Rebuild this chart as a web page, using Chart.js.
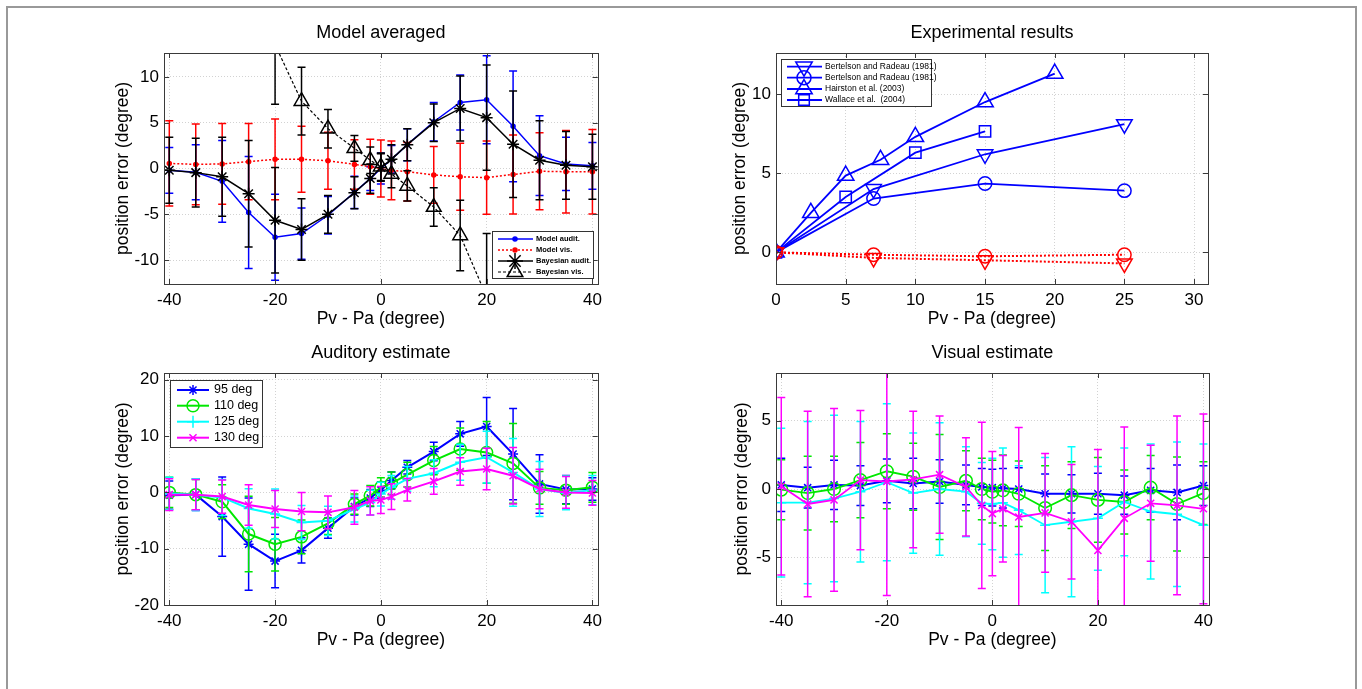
<!DOCTYPE html>
<html>
<head>
<meta charset="utf-8">
<script src="https://cdn.jsdelivr.net/npm/chart.js@4.4.1/dist/chart.umd.min.js"></script>
<style>
    body { margin: 0; background: #fff; width: 1362px; height: 689px; overflow: hidden; position: relative; }
    #frame { position: absolute; left: 6px; top: 6px; width: 1347px; height: 720px; border: 2px solid #999; }
    canvas { position: absolute; }
</style>
</head>
<body>
<div id="frame"></div>
<canvas id="tl"></canvas>
<canvas id="tr"></canvas>
<canvas id="bl"></canvas>
<canvas id="br"></canvas>
<script>
// offsets Pv - Pa used by the model and the two estimate panels
var offsets = [-40, -35, -30, -25, -20, -15, -10, -5, -2, 0, 2, 5, 10, 15, 20, 25, 30, 35, 40];

// Model averaged
var modelAud    = [-0.2, -0.4, -1.4, -4.8, -7.5, -7.1, -5.1, -2.6, -1.1, 0, 1.0, 2.6, 5.1, 7.2, 7.5, 4.6, 1.4, 0.5, 0.3];
var modelAudErr = [2.5, 3.0, 4.45, 6.1, 4.7, 2.8, 2.05, 1.75, 1.3, 1.7, 1.5, 1.75, 2.1, 3.0, 4.8, 6.05, 4.35, 2.9, 2.55];
var modelVis    = [0.55, 0.45, 0.5, 0.75, 1.0, 1.0, 0.85, 0.45, 0.2, 0, -0.2, -0.35, -0.7, -0.9, -1.0, -0.65, -0.3, -0.35, -0.35];
var modelVisErr = [4.65, 4.4, 4.4, 4.15, 4.4, 3.6, 3.1, 2.7, 3.0, 3.1, 3.2, 3.2, 3.1, 3.65, 4.0, 4.3, 4.2, 4.5, 4.6];
var bayesAud    = [-0.2, -0.45, -0.9, -2.75, -5.65, -6.65, -5.0, -2.65, -1.1, 0.1, 1.0, 2.6, 5.0, 6.55, 5.55, 2.65, 0.9, 0.35, 0.2];
var bayesAudErr = [3.6, 3.75, 4.3, 5.8, 5.75, 3.35, 2.05, 1.75, 1.6, 1.5, 1.6, 1.75, 2.05, 3.55, 5.75, 5.8, 4.3, 3.7, 3.55];
var bayesVisX   = [-20, -15, -10, -5, -2, 0, 2, 5, 10, 15, 20];
var bayesVis    = [13.5, 7.35, 4.35, 2.2, 0.9, 0.2, -0.6, -1.9, -4.2, -7.3, -14];
var bayesVisErr = [6.5, 3.7, 2.1, 1.4, 1.45, 1.5, 1.5, 1.65, 2.1, 3.85, 6.9];

// Experimental results
var bertX       = [0, 7, 15, 25];
var bertTri     = [0, 4.0, 6.2, 8.1];
var bertCirc    = [0, 3.4, 4.35, 3.9];
var hairX       = [0, 2.5, 5, 7.5, 10, 15, 20];
var hair        = [0, 2.5, 4.85, 5.85, 7.3, 9.5, 11.3];
var wallX       = [0, 5, 10, 15];
var wall        = [0, 3.5, 6.3, 7.65];
var bertTriVis  = [0, -0.35, -0.5, -0.7];
var bertCircVis = [0, -0.15, -0.25, -0.15];

// Auditory estimate
var aud95     = [-0.5, -0.4, -4.3, -9.2, -12.2, -10.3, -6.35, -2.5, -1.0, 0.4, 2.1, 4.45, 7.25, 10.4, 11.7, 6.8, 1.5, 0.5, 0.6];
var aud95Err  = [2.5, 2.8, 7.05, 8.2, 4.75, 2.25, 1.8, 1.5, 1.5, 1.5, 1.5, 1.2, 1.65, 2.2, 5.15, 8.1, 5.2, 2.5, 2.0];
var aud110    = [0.0, -0.4, -1.65, -7.4, -9.2, -7.9, -5.5, -2.1, -0.6, 0.9, 1.6, 3.15, 5.65, 7.7, 7.1, 5.15, 0.8, 0.4, 0.9];
var aud110Err = [2.7, 2.7, 3.0, 6.7, 4.75, 3.0, 2.0, 1.8, 1.8, 1.7, 2.0, 2.2, 2.5, 3.75, 5.5, 7.1, 2.9, 2.5, 2.65];
var aud125    = [-0.2, -0.4, -0.9, -2.85, -3.85, -5.35, -5.05, -2.95, -1.8, -0.3, 0.9, 2.4, 3.4, 5.35, 6.25, 3.55, 0.6, -0.1, 0.4];
var aud125Err = [2.9, 2.8, 3.2, 3.5, 4.45, 3.0, 2.6, 2.3, 2.2, 2.1, 2.1, 2.2, 2.4, 3.2, 4.6, 6.0, 4.9, 3.0, 2.6];
var aud130    = [-0.4, -0.4, -0.75, -2.25, -2.95, -3.4, -3.55, -2.65, -1.5, -1.35, -0.75, 0.45, 1.95, 3.7, 4.15, 2.95, 0.6, 0.0, -0.1];
var aud130Err = [2.8, 2.7, 2.95, 3.6, 3.3, 3.4, 2.9, 3.0, 2.5, 2.4, 2.3, 2.0, 2.3, 2.45, 3.7, 5.0, 3.5, 2.8, 2.2];

// Visual estimate
var vis95     = [0.3, 0.1, 0.3, 0.25, 0.6, 0.4, 0.55, 0.3, 0.15, 0.1, 0.05, 0.0, -0.35, -0.35, -0.35, -0.45, -0.1, -0.25, 0.25];
var vis95Err  = [1.95, 1.5, 1.8, 1.45, 1.6, 1.85, 1.6, 1.45, 1.35, 1.35, 1.45, 1.55, 1.45, 1.4, 1.5, 1.4, 1.6, 2.0, 1.45];
var vis110    = [-0.05, -0.3, 0.0, 0.65, 1.3, 0.9, 0.15, 0.6, 0.0, -0.2, -0.1, -0.35, -1.4, -0.45, -0.8, -0.95, 0.1, -1.1, -0.3];
var vis110Err = [2.2, 2.7, 2.4, 2.75, 2.75, 2.45, 3.85, 2.2, 2.25, 2.3, 2.6, 2.4, 3.1, 2.45, 3.1, 2.35, 2.35, 3.45, 2.3];
var vis125    = [-1.0, -1.0, -0.7, -0.2, 0.5, -0.3, 0.0, -0.2, -1.05, -1.1, -1.0, -1.55, -2.65, -2.4, -2.15, -0.95, -1.65, -1.85, -2.65];
var vis125Err = [5.45, 5.95, 6.1, 5.15, 5.75, 4.4, 4.85, 3.3, 3.0, 3.35, 4.0, 3.25, 4.95, 5.5, 3.8, 3.95, 4.95, 5.3, 5.95];
var vis130    = [0.2, -1.1, -0.8, 0.65, 0.55, 0.7, 1.05, 0.15, -1.2, -1.8, -1.45, -2.05, -1.75, -2.4, -4.5, -2.15, -1.05, -1.2, -1.45];
var vis130Err = [6.5, 6.8, 6.7, 5.1, 8.35, 5.0, 4.3, 3.6, 6.1, 4.55, 3.9, 6.55, 4.35, 4.2, 7.4, 6.7, 4.25, 6.55, 6.95];

// tick labels
var offsetTicks = [-40, -20, 0, 20, 40];
var expXTicks   = [0, 5, 10, 15, 20, 25, 30];
var modelYTicks = [-10, -5, 0, 5, 10];
var expYTicks   = [0, 5, 10];
var audYTicks   = [-20, -10, 0, 10, 20];
var visYTicks   = [-5, 0, 5];

var FAMILY = "'Liberation Sans', Arial, Helvetica, sans-serif";
var BLUE = '#0000ff', RED = '#ff0000', BLACK = '#000000', GREEN = '#00e800', CYAN = '#00ffff', MAGENTA = '#ff00ff';

function xy(xs, ys) {
    return xs.map(function (x, i) { return {x: x, y: ys[i]}; });
}

function series(label, xs, ys, errs, st) {
    return {
        label: label,
        data: xy(xs, ys),
        errors: errs,
        borderColor: st.color,
        backgroundColor: st.color,
        borderWidth: st.width || 1.5,
        borderDash: st.dash || [],
        pointStyle: st.marker,
        pointRadius: st.r,
        pointHoverRadius: st.r,
        pointRotation: st.rot || 0,
        pointBorderWidth: st.mw || 1.5,
        pointBorderColor: st.color,
        pointBackgroundColor: st.fill ? st.color : 'rgba(0,0,0,0)',
        tension: 0,
        fill: false,
        capHalf: st.cap || 4,
        errWidth: st.ew || 1.5
    };
}

function drawMarker(ctx, style, x, y, r, rot) {
    var k, t, a = (rot || 0) * Math.PI / 180;
    ctx.beginPath();
    if (style === 'circle') {
        ctx.arc(x, y, r, 0, Math.PI * 2);
        ctx.fill();
    } else if (style === 'triangle') {
        for (k = 0; k < 3; k++) {
            t = a + k * 2 * Math.PI / 3;
            if (k) ctx.lineTo(x + Math.sin(t) * r, y - Math.cos(t) * r);
            else ctx.moveTo(x + Math.sin(t) * r, y - Math.cos(t) * r);
        }
        ctx.closePath();
    } else if (style === 'rect') {
        var s = r * Math.SQRT1_2;
        ctx.rect(x - s, y - s, 2 * s, 2 * s);
    } else {
        var angles = style === 'cross' ? [0, 90] : style === 'crossRot' ? [45, 135] : [0, 45, 90, 135];
        angles.forEach(function (g) {
            var q = g * Math.PI / 180;
            ctx.moveTo(x - Math.cos(q) * r, y - Math.sin(q) * r);
            ctx.lineTo(x + Math.cos(q) * r, y + Math.sin(q) * r);
        });
    }
    ctx.stroke();
}

// error bars drawn just before each dataset, clipped to the axes
var errorBars = {
    id: 'errorBars',
    beforeDatasetDraw: function (chart, args) {
        var ds = chart.data.datasets[args.index];
        if (!ds.errors) return;
        var xs = chart.scales.x, ys = chart.scales.y, a = chart.chartArea, ctx = chart.ctx, cap = ds.capHalf;
        ctx.save();
        ctx.beginPath();
        ctx.rect(a.left, a.top, a.right - a.left, a.bottom - a.top);
        ctx.clip();
        ctx.strokeStyle = ds.borderColor;
        ctx.lineWidth = ds.errWidth;
        ctx.setLineDash([]);
        ctx.beginPath();
        ds.data.forEach(function (p, i) {
            var e = ds.errors[i];
            if (e == null) return;
            var px = xs.getPixelForValue(p.x);
            var top = ys.getPixelForValue(p.y + e), bot = ys.getPixelForValue(p.y - e);
            ctx.moveTo(px, top); ctx.lineTo(px, bot);
            ctx.moveTo(px - cap, top); ctx.lineTo(px + cap, top);
            ctx.moveTo(px - cap, bot); ctx.lineTo(px + cap, bot);
        });
        ctx.stroke();
        ctx.restore();
    }
};

// MATLAB style box with inward ticks, and the panel title over the axes
var titles = {};
var axesBox = {
    id: 'axesBox',
    afterDraw: function (chart) {
        var a = chart.chartArea, ctx = chart.ctx, xs = chart.scales.x, ys = chart.scales.y, L = 5;
        ctx.save();
        ctx.strokeStyle = '#3a3a3a';
        ctx.lineWidth = 1;
        ctx.setLineDash([]);
        ctx.beginPath();
        xs.ticks.forEach(function (t) {
            var px = Math.round(xs.getPixelForValue(t.value)) + 0.5;
            ctx.moveTo(px, a.bottom); ctx.lineTo(px, a.bottom - L);
            ctx.moveTo(px, a.top); ctx.lineTo(px, a.top + L);
        });
        ys.ticks.forEach(function (t) {
            var py = Math.round(ys.getPixelForValue(t.value)) + 0.5;
            ctx.moveTo(a.left, py); ctx.lineTo(a.left + L, py);
            ctx.moveTo(a.right, py); ctx.lineTo(a.right - L, py);
        });
        ctx.stroke();
        ctx.strokeRect(Math.round(a.left) + 0.5, Math.round(a.top) + 0.5,
            Math.round(a.right - a.left), Math.round(a.bottom - a.top));
        ctx.fillStyle = '#000';
        ctx.font = '18px ' + FAMILY;
        ctx.textAlign = 'center';
        ctx.textBaseline = 'middle';
        ctx.fillText(titles[chart.canvas.id], (a.left + a.right) / 2, a.top - 20);
        ctx.restore();
    }
};

// legends, page coordinates
var legends = {
    tl: {box: [492, 231, 593, 278], rowY: [239, 250, 261, 272], line: [498, 533], mark: 515, text: 536,
         font: 'bold 7.5px ' + FAMILY, radii: [2, 2, 8, 9]},
    tr: {box: [781, 59, 931, 106], rowY: [66.7, 77.7, 89, 100], line: [787, 822], mark: 804, text: 825,
         font: '8.5px ' + FAMILY, radii: [9.5, 7, 9.5, 7.5]},
    bl: {box: [170, 380, 262, 447], rowY: [390, 405.7, 421.7, 437.7], line: [177, 209], mark: 193, text: 214,
         font: '12.5px ' + FAMILY, radii: [5, 6, 6, 5]}
};

var boxLegend = {
    id: 'boxLegend',
    afterDraw: function (chart) {
        var o = legends[chart.canvas.id];
        if (!o) return;
        var ctx = chart.ctx, dx = parseFloat(chart.canvas.style.left), dy = parseFloat(chart.canvas.style.top), b = o.box;
        ctx.save();
        ctx.fillStyle = '#fff';
        ctx.fillRect(b[0] - dx, b[1] - dy, b[2] - b[0], b[3] - b[1]);
        ctx.strokeStyle = '#333';
        ctx.lineWidth = 1;
        ctx.strokeRect(b[0] - dx + 0.5, b[1] - dy + 0.5, b[2] - b[0], b[3] - b[1]);
        ctx.font = o.font;
        ctx.textBaseline = 'middle';
        ctx.textAlign = 'left';
        o.radii.forEach(function (r, k) {
            var d = chart.data.datasets[k], y = o.rowY[k] - dy;
            ctx.strokeStyle = d.borderColor;
            ctx.lineWidth = d.borderWidth;
            ctx.setLineDash(d.borderDash || []);
            ctx.beginPath();
            ctx.moveTo(o.line[0] - dx, y);
            ctx.lineTo(o.line[1] - dx, y);
            ctx.stroke();
            ctx.setLineDash([]);
            ctx.lineWidth = d.pointBorderWidth;
            ctx.fillStyle = d.pointBackgroundColor;
            drawMarker(ctx, d.pointStyle, o.mark - dx, y, r, d.pointRotation);
            ctx.fillStyle = '#000';
            ctx.fillText(d.label, o.text - dx, y);
        });
        ctx.restore();
    }
};

function makeChart(p, datasets) {
    var cv = document.getElementById(p.id);
    var ox = p.l - 75, oy = p.t - 50;
    var w = 75 + (p.r - p.l) + 10, h = 50 + (p.b - p.t) + 46;
    cv.width = w; cv.height = h;
    cv.style.left = ox + 'px'; cv.style.top = oy + 'px';
    cv.style.width = w + 'px'; cv.style.height = h + 'px';
    titles[p.id] = p.title;
    datasets.forEach(function (d, i) { d.order = datasets.length - i; });
    var tickFont = {family: FAMILY, size: 17, lineHeight: 1.2};
    var axisFont = {family: FAMILY, size: 17.5, lineHeight: 1.2};
    return new Chart(cv.getContext('2d'), {
        type: 'line',
        data: {datasets: datasets},
        options: {
            responsive: false,
            animation: false,
            devicePixelRatio: 1,
            layout: {padding: {top: 50, left: 0, right: 0, bottom: 0}},
            scales: {
                x: {
                    type: 'linear', min: p.xMin, max: p.xMax,
                    afterBuildTicks: function (s) { s.ticks = p.xTicks.map(function (v) { return {value: v}; }); },
                    afterFit: function (s) { s.height = 46; },
                    ticks: {font: tickFont, color: '#000', padding: 6, maxRotation: 0, autoSkip: false,
                            callback: function (v) { return String(v); }},
                    grid: {color: '#d2d2d2', drawTicks: false},
                    border: {display: false, dash: [1, 2]},
                    title: {display: true, text: 'Pv - Pa (degree)', font: axisFont, color: '#000', padding: {top: 0, bottom: 0}}
                },
                y: {
                    type: 'linear', min: p.yMin, max: p.yMax,
                    afterBuildTicks: function (s) { s.ticks = p.yTicks.map(function (v) { return {value: v}; }); },
                    afterFit: function (s) { s.width = 75; },
                    ticks: {font: tickFont, color: '#000', padding: 5, autoSkip: false,
                            callback: function (v) { return String(v); }},
                    grid: {color: '#d2d2d2', drawTicks: false},
                    border: {display: false, dash: [1, 2]},
                    title: {display: true, text: 'position error (degree)', font: axisFont, color: '#000',
                            padding: {top: 75 - p.yTitle - 10.5, bottom: 0}}
                },
                y2: {
                    position: 'right', display: true,
                    ticks: {display: false}, grid: {display: false}, border: {display: false},
                    afterFit: function (s) { s.width = 10; }
                }
            },
            plugins: {
                legend: {display: false},
                tooltip: {enabled: false},
                title: {display: false}
            }
        },
        plugins: [errorBars, axesBox, boxLegend]
    });
}

makeChart({id: 'tl', l: 164, t: 53, r: 598, b: 284, xMin: -41, xMax: 41, yMin: -12.6, yMax: 12.6,
           xTicks: offsetTicks, yTicks: modelYTicks, title: 'Model averaged', yTitle: 41}, [
    series('Model audit.', offsets, modelAud, modelAudErr, {color: BLUE, marker: 'circle', r: 2, fill: true}),
    series('Model vis.', offsets, modelVis, modelVisErr, {color: RED, dash: [2, 2], marker: 'circle', r: 2, fill: true}),
    series('Bayesian audit.', offsets, bayesAud, bayesAudErr, {color: BLACK, marker: 'star', r: 6}),
    series('Bayesian vis.', bayesVisX, bayesVis, bayesVisErr, {color: BLACK, dash: [3, 2], width: 1.2, marker: 'triangle', r: 8.5})
]);

makeChart({id: 'tr', l: 776, t: 53, r: 1209, b: 284, xMin: 0, xMax: 31, yMin: -2, yMax: 12.6,
           xTicks: expXTicks, yTicks: expYTicks, title: 'Experimental results', yTitle: 36}, [
    series('Bertelson and Radeau (1981)', bertX, bertTri, null, {color: BLUE, width: 1.8, marker: 'triangle', rot: 180, r: 9}),
    series('Bertelson and Radeau (1981)', bertX, bertCirc, null, {color: BLUE, width: 1.8, marker: 'circle', r: 6.7}),
    series('Hairston et al. (2003)', hairX, hair, null, {color: BLUE, width: 1.8, marker: 'triangle', r: 9.5}),
    series('Wallace et al.  (2004)', wallX, wall, null, {color: BLUE, width: 1.8, marker: 'rect', r: 8}),
    series('Bertelson and Radeau (1981) vis.', bertX, bertTriVis, null, {color: RED, width: 2, dash: [2, 2], marker: 'triangle', rot: 180, r: 9}),
    series('Bertelson and Radeau (1981) vis.', bertX, bertCircVis, null, {color: RED, width: 2, dash: [2, 2], marker: 'circle', r: 6.7})
]);

makeChart({id: 'bl', l: 164, t: 373, r: 598, b: 605, xMin: -41, xMax: 41, yMin: -20, yMax: 21.2,
           xTicks: offsetTicks, yTicks: audYTicks, title: 'Auditory estimate', yTitle: 41}, [
    series('95 deg', offsets, aud95, aud95Err, {color: BLUE, width: 2, marker: 'star', r: 5}),
    series('110 deg', offsets, aud110, aud110Err, {color: GREEN, width: 2, marker: 'circle', r: 6}),
    series('125 deg', offsets, aud125, aud125Err, {color: CYAN, width: 2, marker: 'cross', r: 5}),
    series('130 deg', offsets, aud130, aud130Err, {color: MAGENTA, width: 2, marker: 'crossRot', r: 5})
]);

makeChart({id: 'br', l: 776, t: 373, r: 1209, b: 605, xMin: -41, xMax: 41, yMin: -8.5, yMax: 8.5,
           xTicks: offsetTicks, yTicks: visYTicks, title: 'Visual estimate', yTitle: 34}, [
    series('95 deg', offsets, vis95, vis95Err, {color: BLUE, width: 2, marker: 'star', r: 5}),
    series('110 deg', offsets, vis110, vis110Err, {color: GREEN, width: 1.8, marker: 'circle', r: 6.3}),
    series('125 deg', offsets, vis125, vis125Err, {color: CYAN, width: 1.8, marker: 'cross', r: 5}),
    series('130 deg', offsets, vis130, vis130Err, {color: MAGENTA, width: 1.8, marker: 'crossRot', r: 5})
]);
</script>
</body>
</html>
